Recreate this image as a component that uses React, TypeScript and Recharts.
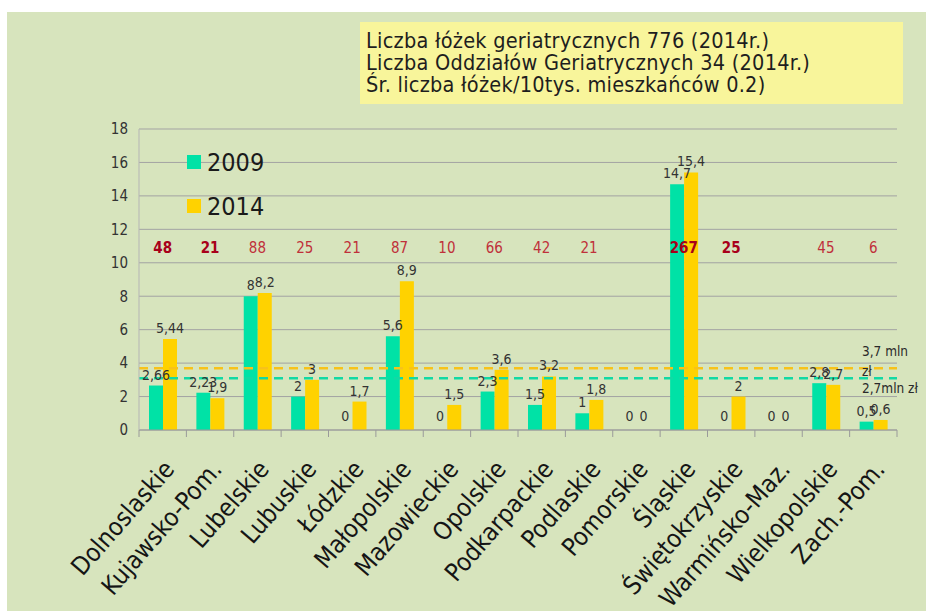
import React from 'react';
import { BarChart, Bar, Line, XAxis, YAxis, CartesianGrid, ReferenceLine, LabelList } from 'recharts';

const categories = ['Dolnoslaskie', 'Kujawsko-Pom.', 'Lubelskie', 'Lubuskie', 'Łódzkie', 'Małopolskie', 'Mazowieckie', 'Opolskie', 'Podkarpackie', 'Podlaskie', 'Pomorskie', 'Śląskie', 'Świętokrzyskie', 'Warmińsko-Maz.', 'Wielkopolskie', 'Zach.-Pom.'];
const values2009 = [2.66, 2.23, 8, 2, 0, 5.6, 0, 2.3, 1.5, 1, 0, 14.7, 0, 0, 2.8, 0.5];
const values2014 = [5.44, 1.9, 8.2, 3, 1.7, 8.9, 1.5, 3.6, 3.2, 1.8, 0, 15.4, 2, 0, 2.7, 0.6];
const beds = [48, 21, 88, 25, 21, 87, 10, 66, 42, 21, null, 267, 25, null, 45, 6];
const bedsHighlighted = ['Dolnoslaskie', 'Kujawsko-Pom.', 'Śląskie', 'Świętokrzyskie'];
const yTicks = [0, 2, 4, 6, 8, 10, 12, 14, 16, 18];
const ref2014 = 3.7;
const ref2009 = 3.1;
const ref2014Label = ['3,7 mln', 'zł'];
const ref2009Label = '2,7mln zł';
const infoLines = [
  'Liczba łóżek geriatrycznych 776 (2014r.)',
  'Liczba Oddziałów Geriatrycznych 34 (2014r.)',
  'Śr. liczba łóżek/10tys. mieszkańców 0.2)',
];
const legendItems = [
  { name: '2009', key: 'v2009' },
  { name: '2014', key: 'v2014' },
];

const BEDS_LABEL_LEVEL = 10.9;

const FONT = '"DejaVu Sans Condensed", "DejaVu Sans", sans-serif';
const GREEN = '#00E2A6';
const YELLOW = '#FFD200';
const GREEN_DASH = '#12D9A4';
const YELLOW_DASH = '#F7C21A';
const W = 926;
const H = 611;
const M = { top: 129, right: 29, bottom: 151, left: 0 };
const YAXIS_W = 139;
const PLOT_W = W - M.left - M.right - YAXIS_W;
const BAR_W = 14;

const data = categories.map((c, i) => ({
  name: c,
  v2009: values2009[i],
  v2014: values2014[i],
  beds: beds[i],
  bedsLevel: BEDS_LABEL_LEVEL,
}));

const fmt = (v: any) => (v === null || v === undefined ? '' : String(v).replace('.', ','));
const labelStyle = { fontSize: 14, fontFamily: FONT, fill: '#333' };

const XTick = (props: any) => {
  const { x, y, payload, index } = props;
  const step = PLOT_W / categories.length;
  return (
    <g>
      <line x1={x - step / 2} x2={x - step / 2} y1={y} y2={y + 7} stroke="#9a9a9a" />
      {index === categories.length - 1 && (
        <line x1={x + step / 2} x2={x + step / 2} y1={y} y2={y + 7} stroke="#9a9a9a" />
      )}
      <text
        transform={`translate(${x + 13},${y + 40}) rotate(-49)`}
        textAnchor="end"
        fontSize={25}
        fontFamily={FONT}
        fill="#151515"
      >
        {payload.value}
      </text>
    </g>
  );
};

const BarValueLabel = (props: any) => {
  const { x, y, width, value } = props;
  if (value === null || value === undefined || value === 0) return null;
  return (
    <text x={x + width / 2} y={y - 6} textAnchor="middle" {...labelStyle}>
      {fmt(value)}
    </text>
  );
};

const makeZeroLabel = (shift: number) => (props: any) => {
  const { x, y, value } = props;
  if (value !== 0) return null;
  return (
    <text x={x + shift} y={y - 9} textAnchor="middle" {...labelStyle}>
      {fmt(value)}
    </text>
  );
};
const ZeroLabel2009 = makeZeroLabel(-BAR_W / 2);
const ZeroLabel2014 = makeZeroLabel(BAR_W / 2);

const BedsLabel = (props: any) => {
  const { x, y, value, index } = props;
  if (value === null || value === undefined) return null;
  const hl = bedsHighlighted.includes(categories[index]);
  return (
    <text
      x={x}
      y={y}
      dy={5}
      textAnchor="middle"
      fontSize={15}
      fontFamily={FONT}
      fontWeight={hl ? 'bold' : 'normal'}
      fill={hl ? '#A8001A' : '#C0303A'}
    >
      {value}
    </text>
  );
};

const Ref2014Label = (props: any) => {
  const vb = props.viewBox;
  const x = vb.x + vb.width - 35;
  return (
    <text fontSize={13.5} fontFamily={FONT} fill="#2a2a2a">
      <tspan x={x} y={vb.y - 12}>{ref2014Label[0]}</tspan>
      <tspan x={x} y={vb.y + 8}>{ref2014Label[1]}</tspan>
    </text>
  );
};

const Ref2009Label = (props: any) => {
  const vb = props.viewBox;
  return (
    <text x={vb.x + vb.width - 35} y={vb.y + 15} fontSize={13.5} fontFamily={FONT} fill="#2a2a2a">
      {ref2009Label}
    </text>
  );
};

export default function App() {
  return (
    <div style={{ position: 'absolute', left: 0, top: 0, width: W, height: H, background: '#ffffff', overflow: 'hidden' }}>
      <div style={{ position: 'absolute', left: 7, top: 12, width: W - 7, height: H - 12, background: '#D7E4BD' }} />
      <div
        style={{
          position: 'absolute',
          left: 360,
          top: 22,
          width: 543,
          height: 82,
          background: '#F8F59B',
          boxSizing: 'border-box',
          padding: '8px 0 0 6px',
          fontFamily: FONT,
          fontSize: 21.5,
          letterSpacing: '0.25px',
          lineHeight: '22px',
          color: '#1e1e1e',
          whiteSpace: 'nowrap',
        }}
      >
        {infoLines.map((l) => (
          <div key={l}>{l}</div>
        ))}
      </div>
      <div style={{ position: 'absolute', left: 0, top: 0 }}>
        <BarChart width={W} height={H} data={data} margin={M} barGap={0} barSize={BAR_W}>
          <CartesianGrid horizontal vertical={false} stroke="#a3a3a3" />
          <XAxis
            dataKey="name"
            interval={0}
            tickLine={false}
            tickSize={0}
            tickMargin={0}
            height={30}
            axisLine={{ stroke: '#9a9a9a' }}
            tick={<XTick />}
          />
          <YAxis
            width={YAXIS_W}
            domain={[0, 18]}
            ticks={yTicks}
            tickLine={false}
            tickSize={0}
            tickMargin={11}
            axisLine={{ stroke: '#b5b5b5' }}
            tick={{ fontSize: 15, fontFamily: FONT, fill: '#333' }}
          />
          <ReferenceLine y={ref2014} stroke={YELLOW_DASH} strokeWidth={2.5} strokeDasharray="9 6" label={<Ref2014Label />} />
          <ReferenceLine y={ref2009} stroke={GREEN_DASH} strokeWidth={2.5} strokeDasharray="9 6" label={<Ref2009Label />} />
          <Bar dataKey="v2009" fill={GREEN} isAnimationActive={false}>
            <LabelList dataKey="v2009" content={<BarValueLabel />} />
          </Bar>
          <Bar dataKey="v2014" fill={YELLOW} isAnimationActive={false}>
            <LabelList dataKey="v2014" content={<BarValueLabel />} />
          </Bar>
          <Line dataKey="v2009" stroke="none" dot={false} activeDot={false} isAnimationActive={false} legendType="none">
            <LabelList dataKey="v2009" content={<ZeroLabel2009 />} />
          </Line>
          <Line dataKey="v2014" stroke="none" dot={false} activeDot={false} isAnimationActive={false} legendType="none">
            <LabelList dataKey="v2014" content={<ZeroLabel2014 />} />
          </Line>
          <Line dataKey="bedsLevel" stroke="none" dot={false} activeDot={false} isAnimationActive={false} legendType="none">
            <LabelList dataKey="beds" content={<BedsLabel />} />
          </Line>
        </BarChart>
      </div>
      {legendItems.map((it, i) => (
        <div key={it.key} style={{ position: 'absolute', left: 187, top: 148 + i * 44, height: 28, display: 'flex', alignItems: 'center' }}>
          <div style={{ width: 14, height: 14, background: i === 0 ? GREEN : YELLOW, marginRight: 6 }} />
          <div style={{ fontFamily: FONT, fontSize: 25, color: '#1a1a1a' }}>{it.name}</div>
        </div>
      ))}
    </div>
  );
}
